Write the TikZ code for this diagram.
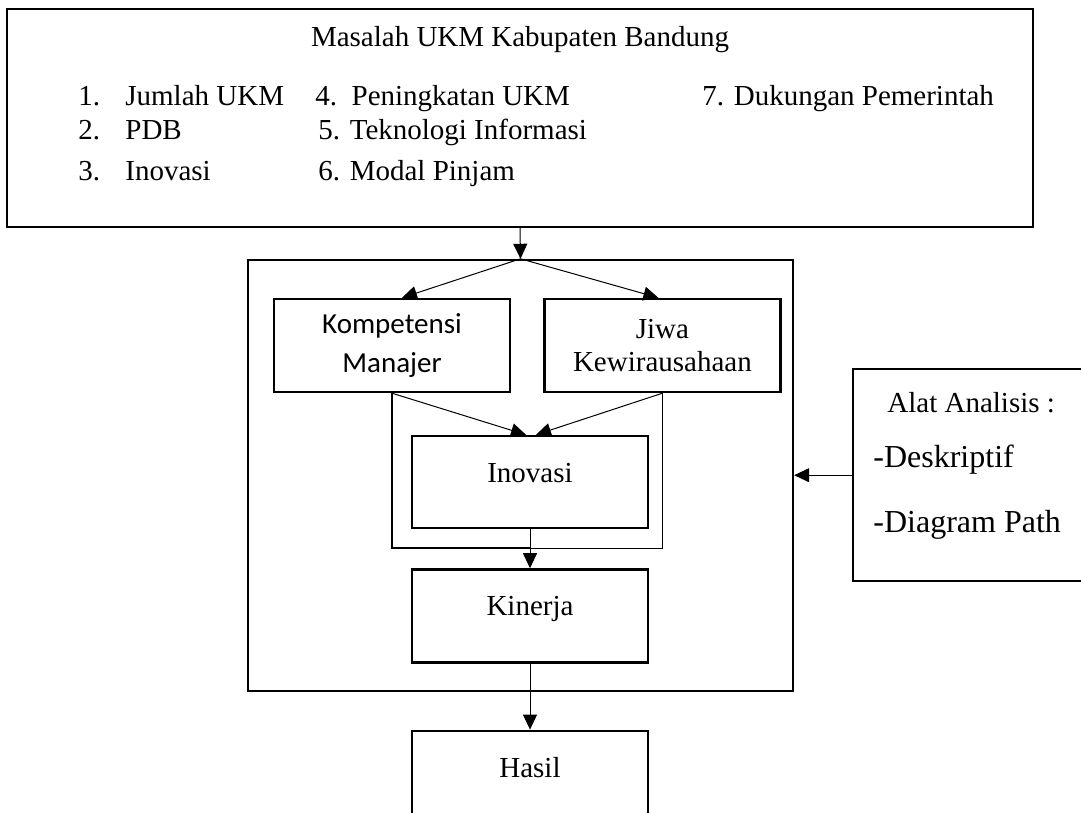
\documentclass[tikz,border=0pt]{standalone}
\usepackage{fontspec}
\setmainfont{Liberation Serif}
\newfontfamily\calibri{Carlito}
\usetikzlibrary{arrows.meta,positioning}

\begin{document}
\begin{tikzpicture}[x=0.5pt,y=-0.5pt,>={Triangle[length=7.5pt,width=7pt]},
 box/.style={draw,line width=1.2pt,inner sep=0pt,minimum width=118pt,minimum height=46.5pt,
 align=center,font=\fontsize{14.5}{16.5}\selectfont},
 atas/.style={box,text height=10pt,text depth=10pt},
 txt/.style={inner sep=0pt,font=\fontsize{14.5}{17}\selectfont},
 link/.style={->,line width=0.5pt}]
\useasboundingbox (0,0) rectangle (1081,813);
\clip (0,0) rectangle (1081,813);
% masalah
\node[box,minimum width=513pt,minimum height=109pt] (masalah) at (520,118) {};
\node[txt,anchor=base] (judul) at (520,47) {Masalah UKM Kabupaten Bandung};
\node[txt,anchor=base west] (n1) at (78,105) {1.};
\node[txt,anchor=base west] (m1) at (125,105) {Jumlah UKM};
\node[txt,anchor=base west] (n2) at (78,140) {2.};
\node[txt,anchor=base west] (m2) at (125,140) {PDB};
\node[txt,anchor=base west] (n3) at (78,180) {3.};
\node[txt,anchor=base west] (m3) at (125,180) {Inovasi};
\node[txt,anchor=base west] (m4) at (315,105) {4.\enspace Peningkatan UKM};
\node[txt,anchor=base west] (m5) at (318,140) {5. Teknologi Informasi};
\node[txt,anchor=base west] (m6) at (318,180) {6. Modal Pinjam};
\node[txt,anchor=base west] (m7) at (702,105) {7. Dukungan Pemerintah};
% model
\node[box,minimum width=272.5pt,minimum height=215.5pt] (kerangka) at (520.5,475.5) {};
\node[box,font=\calibri\fontsize{14.5}{19.5}\selectfont] (komp) at (392,345.5)
 {Kompetensi\\Manajer};
\node[box,right=16pt of komp] (jiwa) {Jiwa\\Kewirausahaan};
\node[atas,minimum height=46pt] (inovasi) at (530,482) {Inovasi};
\node[atas,below=19.5pt of inovasi] (kinerja) {Kinerja};
\node[atas,below=33pt of kinerja] (hasil) {Hasil};
% alat analisis
\node[box,anchor=north west,minimum width=124pt,minimum height=106pt] (alat) at (852,368) {};
\node[txt,anchor=west] (a1) at (887,403) {Alat Analisis :};
\node[txt,anchor=west,font=\fontsize{16}{19}\selectfont] (a2) at (873,460) {-Deskriptif};
\node[txt,anchor=west,font=\fontsize{16}{19}\selectfont] (a3) at (873,525) {-Diagram Path};
\coordinate (temu) at (531,548);
\draw[link] (masalah.south) -- (kerangka.north);
\draw[link] (kerangka.north) -- ([xshift=5pt]komp.north);
\draw[link] (kerangka.north) -- ([xshift=-2pt]jiwa.north);
\draw[link] (komp.south) -- ([xshift=-2pt]inovasi.north);
\draw[link] (jiwa.south) -- ([xshift=3pt]inovasi.north);
\draw[line width=1.2pt] (komp.south) |- (temu);
\draw[line width=0.5pt] (jiwa.south) |- (temu);
\draw[link] (inovasi.south) -- (kinerja.north);
\draw[link] (kinerja.south) -- (hasil.north);
\draw[link] (alat.west) -- (alat.west -| kerangka.east);
\end{tikzpicture}
\end{document}
